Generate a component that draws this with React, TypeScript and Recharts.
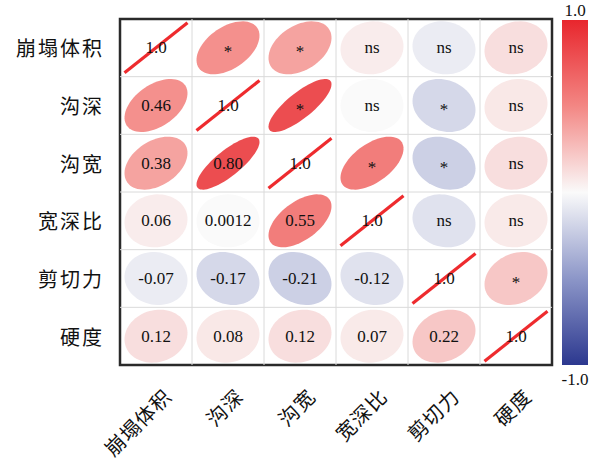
import React from 'react'
import {
  ScatterChart, Scatter, XAxis, YAxis, ReferenceLine, ReferenceArea
} from 'recharts'

const VARS = ['崩塌体积', '沟深', '沟宽', '宽深比', '剪切力', '硬度']

// lower triangle, row by row (row i holds r with columns 0..i-1)
const R_ROW1 = [0.46]
const R_ROW2 = [0.38, 0.80]
const R_ROW3 = [0.06, 0.0012, 0.55]
const R_ROW4 = [-0.07, -0.17, -0.21, -0.12]
const R_ROW5 = [0.12, 0.08, 0.12, 0.07, 0.22]
const LOWER = [[], R_ROW1, R_ROW2, R_ROW3, R_ROW4, R_ROW5]

// significance marks, upper triangle (row i holds columns i+1..5)
const SIG_ROW0 = ['*', '*', 'ns', 'ns', 'ns']
const SIG_ROW1 = ['*', 'ns', '*', 'ns']
const SIG_ROW2 = ['*', '*', 'ns']
const SIG_ROW3 = ['ns', 'ns']
const SIG_ROW4 = ['*']
const UPPER = [SIG_ROW0, SIG_ROW1, SIG_ROW2, SIG_ROW3, SIG_ROW4, []]

const TICKS = [0, 1, 2, 3, 4, 5]
const GRID = [0.5, 1.5, 2.5, 3.5, 4.5]

const SERIF = '"Liberation Serif", "DejaVu Serif", serif'
const CJK = '"Noto Sans CJK SC", sans-serif'

const STOPS: [number, number[]][] = [
  [-1, [44, 56, 143]],
  [-0.5, [140, 150, 200]],
  [0, [250, 250, 250]],
  [0.5, [243, 135, 132]],
  [1, [232, 38, 45]],
]

function colorFor(r: number) {
  for (let i = 0; i < STOPS.length - 1; i++) {
    const [a, ca] = STOPS[i]
    const [b, cb] = STOPS[i + 1]
    if (r >= a && r <= b) {
      const t = (r - a) / (b - a)
      const c = ca.map((v, k) => Math.round(v + (cb[k] - v) * t))
      return `rgb(${c[0]},${c[1]},${c[2]})`
    }
  }
  return '#fff'
}

const fmt = (r: number) => (Math.abs(r) < 0.01 ? r.toFixed(4) : r.toFixed(2))

function getR(i: number, j: number) {
  if (i === j) return 1
  return i > j ? LOWER[i][j] : LOWER[j][i]
}

const cells: any[] = []
VARS.forEach((_, i) => {
  VARS.forEach((__, j) => {
    const r = getR(i, j)
    let kind = 'diag'
    let text = '1.0'
    if (i > j) { kind = 'lower'; text = fmt(r) }
    if (i < j) { kind = 'upper'; text = UPPER[i][j - i - 1] }
    cells.push({ x: j, y: i, r, kind, text })
  })
})

function ellipsePath(cx: number, cy: number, r: number, sx: number, sy: number) {
  const d = Math.acos(r)
  const pts: string[] = []
  for (let k = 0; k <= 72; k++) {
    const t = (k / 72) * Math.PI * 2
    const px = cx + sx * Math.cos(t + d / 2)
    const py = cy - sy * Math.cos(t - d / 2)
    pts.push(`${k === 0 ? 'M' : 'L'}${px.toFixed(2)},${py.toFixed(2)}`)
  }
  return pts.join(' ') + ' Z'
}

const CellShape = (props: any) => {
  const { cx, cy, payload } = props
  if (cx == null || cy == null) return null
  const { r, kind, text } = payload
  if (kind === 'diag') {
    return (
      <g>
        <line x1={cx - 31.5} y1={cy + 25} x2={cx + 31.5} y2={cy - 25} stroke="#EE2B2E" strokeWidth={3.2} />
        <text x={cx} y={cy} textAnchor="middle" dominantBaseline="central"
          fontFamily={SERIF} fontSize={17} fill="#111">{text}</text>
      </g>
    )
  }
  const isStar = text === '*'
  return (
    <g>
      <path d={ellipsePath(cx, cy, r, 31.5, 26.5)} fill={colorFor(r)} stroke="none" />
      <text x={cx} y={isStar ? cy + 4 : cy} textAnchor="middle" dominantBaseline="central"
        fontFamily={SERIF} fontSize={17} fill="#111">{text}</text>
    </g>
  )
}

const YTick = ({ x, y, payload }: any) => (
  <text x={x - 16} y={y} textAnchor="end" dominantBaseline="central"
    fontFamily={CJK} fontSize={20} letterSpacing={2} fill="#111">
    {VARS[payload.value]}
  </text>
)

const XTick = ({ x, y, payload }: any) => {
  const ax = x + 17
  const ay = y + 33
  return (
    <text x={ax} y={ay} textAnchor="end" transform={`rotate(-45, ${ax}, ${ay})`}
      fontFamily={CJK} fontSize={20} letterSpacing={1} fill="#111">
      {VARS[payload.value]}
    </text>
  )
}

export default function App() {
  return (
    <div style={{ position: 'absolute', left: 0, top: 0, width: 600, height: 463, background: '#fff' }}>
      <ScatterChart width={600} height={463} margin={{ top: 19, right: 48, left: 0, bottom: 0 }}>
        <XAxis type="number" dataKey="x" domain={[-0.5, 5.5]} ticks={TICKS} height={98}
          axisLine={false} tickLine={false} tickSize={0} tickMargin={0} tick={<XTick />} interval={0} />
        <YAxis type="number" dataKey="y" domain={[-0.5, 5.5]} ticks={TICKS} width={120} reversed
          axisLine={false} tickLine={false} tickSize={0} tickMargin={0} tick={<YTick />} interval={0} />
        {GRID.map(g => (
          <ReferenceLine key={'v' + g} x={g} stroke="#DADADA" strokeWidth={1} />
        ))}
        {GRID.map(g => (
          <ReferenceLine key={'h' + g} y={g} stroke="#DADADA" strokeWidth={1} />
        ))}
        <Scatter data={cells} shape={<CellShape />} isAnimationActive={false} />
        <ReferenceArea x1={-0.5} x2={5.5} y1={-0.5} y2={5.5} fill="none" fillOpacity={0}
          stroke="#2a2a2a" strokeWidth={2.5} />
      </ScatterChart>
      <div style={{
        position: 'absolute', left: 562, top: 20, width: 26, height: 345,
        background: 'linear-gradient(to bottom, #E8262D 0%, #F38784 25%, #FAFAFA 50%, #8C96C8 75%, #2C388F 100%)'
      }} />
      <div style={{
        position: 'absolute', left: 555, top: 1, width: 40, textAlign: 'center',
        fontFamily: SERIF, fontSize: 17, color: '#111', lineHeight: '20px'
      }}>1.0</div>
      <div style={{
        position: 'absolute', left: 555, top: 370, width: 40, textAlign: 'center',
        fontFamily: SERIF, fontSize: 17, color: '#111', lineHeight: '20px'
      }}>-1.0</div>
    </div>
  )
}
